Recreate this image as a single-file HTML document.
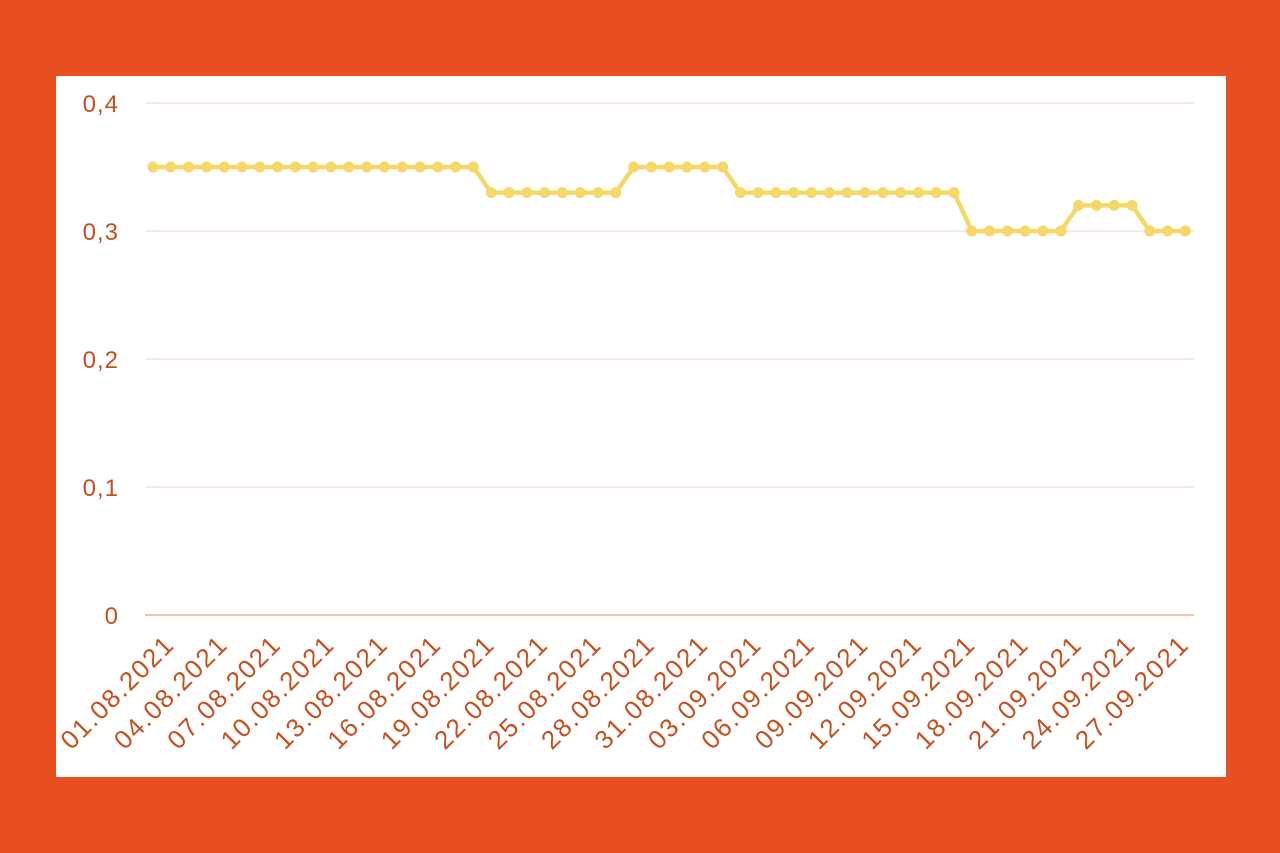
<!DOCTYPE html>
<html><head><meta charset="utf-8"><style>
html,body{margin:0;padding:0;background:#E84E1F;}
svg{display:block}
text{font-family:"Liberation Sans",sans-serif;fill:#C4511F;}
</style></head><body>
<svg width="1280" height="853" viewBox="0 0 1280 853">
<defs><marker id="m" markerWidth="14" markerHeight="14" refX="7" refY="7" markerUnits="userSpaceOnUse"><circle cx="7" cy="7" r="5.5" fill="#F6D868"/></marker></defs>
<rect width="1280" height="853" fill="#E84E1F"/>
<rect x="56" y="76" width="1170" height="701" fill="#fff"/>
<g stroke="#F6D3C6" stroke-width="1">
<line x1="145" y1="103" x2="1194" y2="103"/>
<line x1="145" y1="231" x2="1194" y2="231"/>
<line x1="145" y1="359" x2="1194" y2="359"/>
<line x1="145" y1="487" x2="1194" y2="487"/>
</g>
<line x1="145" y1="615" x2="1194" y2="615" stroke="#E9A080" stroke-width="1.2"/>
<g font-size="24" text-anchor="end" letter-spacing="1">
<text x="119" y="112">0,4</text>
<text x="119" y="240">0,3</text>
<text x="119" y="368">0,2</text>
<text x="119" y="496">0,1</text>
<text x="119" y="624">0</text>
</g>
<polyline fill="none" stroke="#F6D868" stroke-width="4.5" stroke-linejoin="round" marker-start="url(#m)" marker-mid="url(#m)" marker-end="url(#m)" points="153,167 170.8,167 188.6,167 206.4,167 224.2,167 242,167 259.8,167 277.6,167 295.4,167 313.2,167 331,167 348.8,167 366.6,167 384.4,167 402.2,167 420,167 437.8,167 455.6,167 473.4,167 491.2,192.6 509,192.6 526.8,192.6 544.6,192.6 562.4,192.6 580.2,192.6 598,192.6 615.8,192.6 633.6,167 651.4,167 669.2,167 687,167 704.8,167 722.6,167 740.4,192.6 758.2,192.6 776,192.6 793.8,192.6 811.6,192.6 829.4,192.6 847.2,192.6 865,192.6 882.8,192.6 900.6,192.6 918.4,192.6 936.2,192.6 954,192.6 971.8,231 989.6,231 1007.4,231 1025.2,231 1043,231 1060.8,231 1078.6,205.4 1096.4,205.4 1114.2,205.4 1132,205.4 1149.8,231 1167.6,231 1185.4,231"/>
<g font-size="26" text-anchor="end" letter-spacing="1.8">
<text transform="translate(176,646) rotate(-45)">01.08.2021</text>
<text transform="translate(229.4,646) rotate(-45)">04.08.2021</text>
<text transform="translate(282.8,646) rotate(-45)">07.08.2021</text>
<text transform="translate(336.2,646) rotate(-45)">10.08.2021</text>
<text transform="translate(389.6,646) rotate(-45)">13.08.2021</text>
<text transform="translate(443,646) rotate(-45)">16.08.2021</text>
<text transform="translate(496.4,646) rotate(-45)">19.08.2021</text>
<text transform="translate(549.8,646) rotate(-45)">22.08.2021</text>
<text transform="translate(603.2,646) rotate(-45)">25.08.2021</text>
<text transform="translate(656.6,646) rotate(-45)">28.08.2021</text>
<text transform="translate(710,646) rotate(-45)">31.08.2021</text>
<text transform="translate(763.4,646) rotate(-45)">03.09.2021</text>
<text transform="translate(816.8,646) rotate(-45)">06.09.2021</text>
<text transform="translate(870.2,646) rotate(-45)">09.09.2021</text>
<text transform="translate(923.6,646) rotate(-45)">12.09.2021</text>
<text transform="translate(977,646) rotate(-45)">15.09.2021</text>
<text transform="translate(1030.4,646) rotate(-45)">18.09.2021</text>
<text transform="translate(1083.8,646) rotate(-45)">21.09.2021</text>
<text transform="translate(1137.2,646) rotate(-45)">24.09.2021</text>
<text transform="translate(1190.6,646) rotate(-45)">27.09.2021</text>
</g>
</svg>
</body></html>
